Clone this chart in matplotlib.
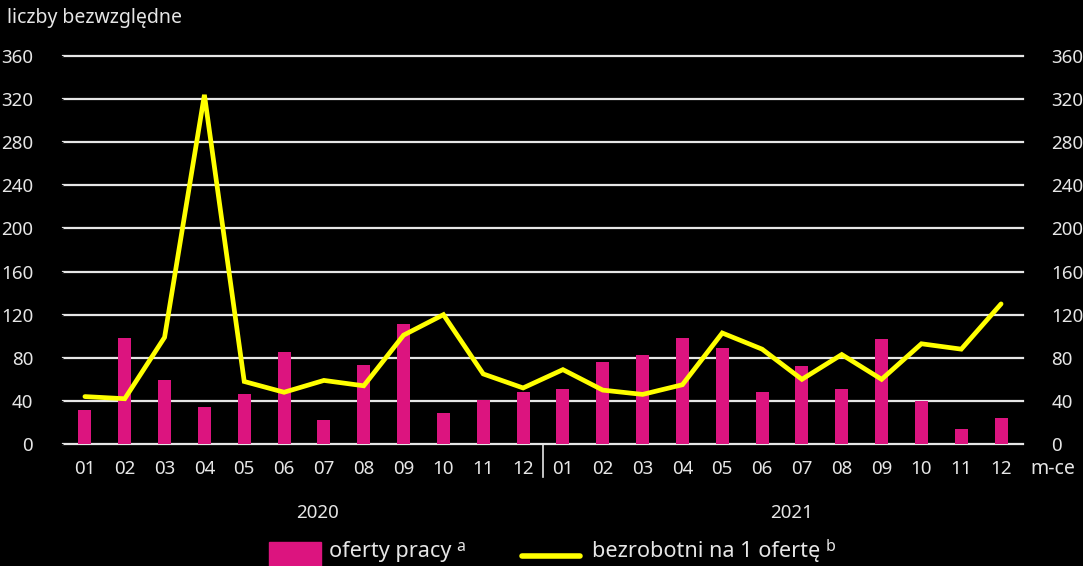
import matplotlib
matplotlib.use("Agg")
import matplotlib.pyplot as plt
from matplotlib.patches import Rectangle
from matplotlib.lines import Line2D

months = ["01", "02", "03", "04", "05", "06", "07", "08", "09", "10", "11", "12"]
tick_labels = months + months
years = ["2020", "2021"]
oferty_pracy = [32, 98, 59, 34, 46, 85, 22, 73, 111, 29, 41, 48,
                51, 76, 83, 98, 89, 48, 72, 51, 97, 40, 14, 24]
bezrobotni_na_oferte = [44, 42, 99, 324, 58, 48, 59, 54, 101, 120, 65, 52,
                        69, 50, 46, 55, 103, 88, 60, 83, 60, 93, 88, 130]
yticks = [0, 40, 80, 120, 160, 200, 240, 280, 320, 360]

BG = "black"
FG = "#e6e6e6"
PINK = "#dc147f"
YELLOW = "#ffff00"
FONT = "Noto Sans"
plt.rcParams["font.family"] = [FONT, "DejaVu Sans"]

W, H = 1083, 566
fig = plt.figure(figsize=(W / 100, H / 100), dpi=100, facecolor=BG)
ax = fig.add_axes([63 / W, 1 - 444 / H, (1023 - 63) / W, (444 - 56) / H])
ax.set_facecolor(BG)

x = list(range(len(tick_labels)))
ax.set_xlim(-0.55, len(x) - 0.45)
ax.set_ylim(0, 360)

for v in yticks:
    ax.axhline(v, color=FG, lw=1.6, zorder=1, clip_on=False)

ax.bar(x, oferty_pracy, width=0.33, color=PINK, zorder=2)
ax.plot(x, bezrobotni_na_oferte, color=YELLOW, lw=3.4, zorder=3,
        solid_joinstyle="miter", solid_capstyle="round")

for s in ax.spines.values():
    s.set_visible(False)

ax.set_yticks(yticks)
ax.set_yticklabels([str(v) for v in yticks])
ax.tick_params(axis="y", left=False, right=False, labelleft=True, labelright=False,
               labelsize=13.5, labelcolor=FG, pad=18)

ax2 = ax.twinx()
ax2.set_ylim(ax.get_ylim())
ax2.set_yticks(yticks)
ax2.set_yticklabels([str(v) for v in yticks])
ax2.tick_params(axis="y", left=False, right=False, labelleft=False, labelright=True,
                labelsize=13.5, labelcolor=FG, pad=17)
for s in ax2.spines.values():
    s.set_visible(False)

ax.set_xticks(x)
ax.set_xticklabels(tick_labels)
ax.tick_params(axis="x", bottom=False, labelsize=13.5, labelcolor=FG, pad=8)

# separator between years
ax.plot([11.5, 11.5], [0, -31], color=FG, lw=1.2, clip_on=False, zorder=1)

# year labels
ax.text(5.85, -64, years[0], ha="center", va="center", fontsize=13.5, color=FG)
ax.text(17.75, -64, years[1], ha="center", va="center", fontsize=13.5, color=FG)

# m-ce
fig.text(1053 / W, 1 - 469 / H, "m-ce", ha="center", va="center", fontsize=14, color=FG)
# axis title
fig.text(7 / W, 1 - 18 / H, "liczby bezwzględne", ha="left", va="center", fontsize=14, color=FG)

# legend (manual)
fig.patches.append(Rectangle((269 / W, 0), 52 / W, 24 / H, transform=fig.transFigure,
                             color=PINK, figure=fig))
t1 = fig.text(329 / W, 1 - 552 / H, "oferty pracy", ha="left", va="center", fontsize=15.6, color=FG)
fig.lines.append(Line2D([522 / W, 580 / W], [1 - 556 / H, 1 - 556 / H], transform=fig.transFigure,
                        color=YELLOW, lw=4, solid_capstyle="round", figure=fig))
t2 = fig.text(592 / W, 1 - 552 / H, "bezrobotni na 1 ofertę", ha="left", va="center", fontsize=15.6, color=FG)

renderer = fig.canvas.get_renderer()
for t, sup in ((t1, "a"), (t2, "b")):
    bb = t.get_window_extent(renderer)
    fig.text((bb.x1 + 5) / W, 1 - 547 / H, sup, ha="left", va="center", fontsize=11.5, color=FG)

fig.savefig("out.png", dpi=100, facecolor=BG)
